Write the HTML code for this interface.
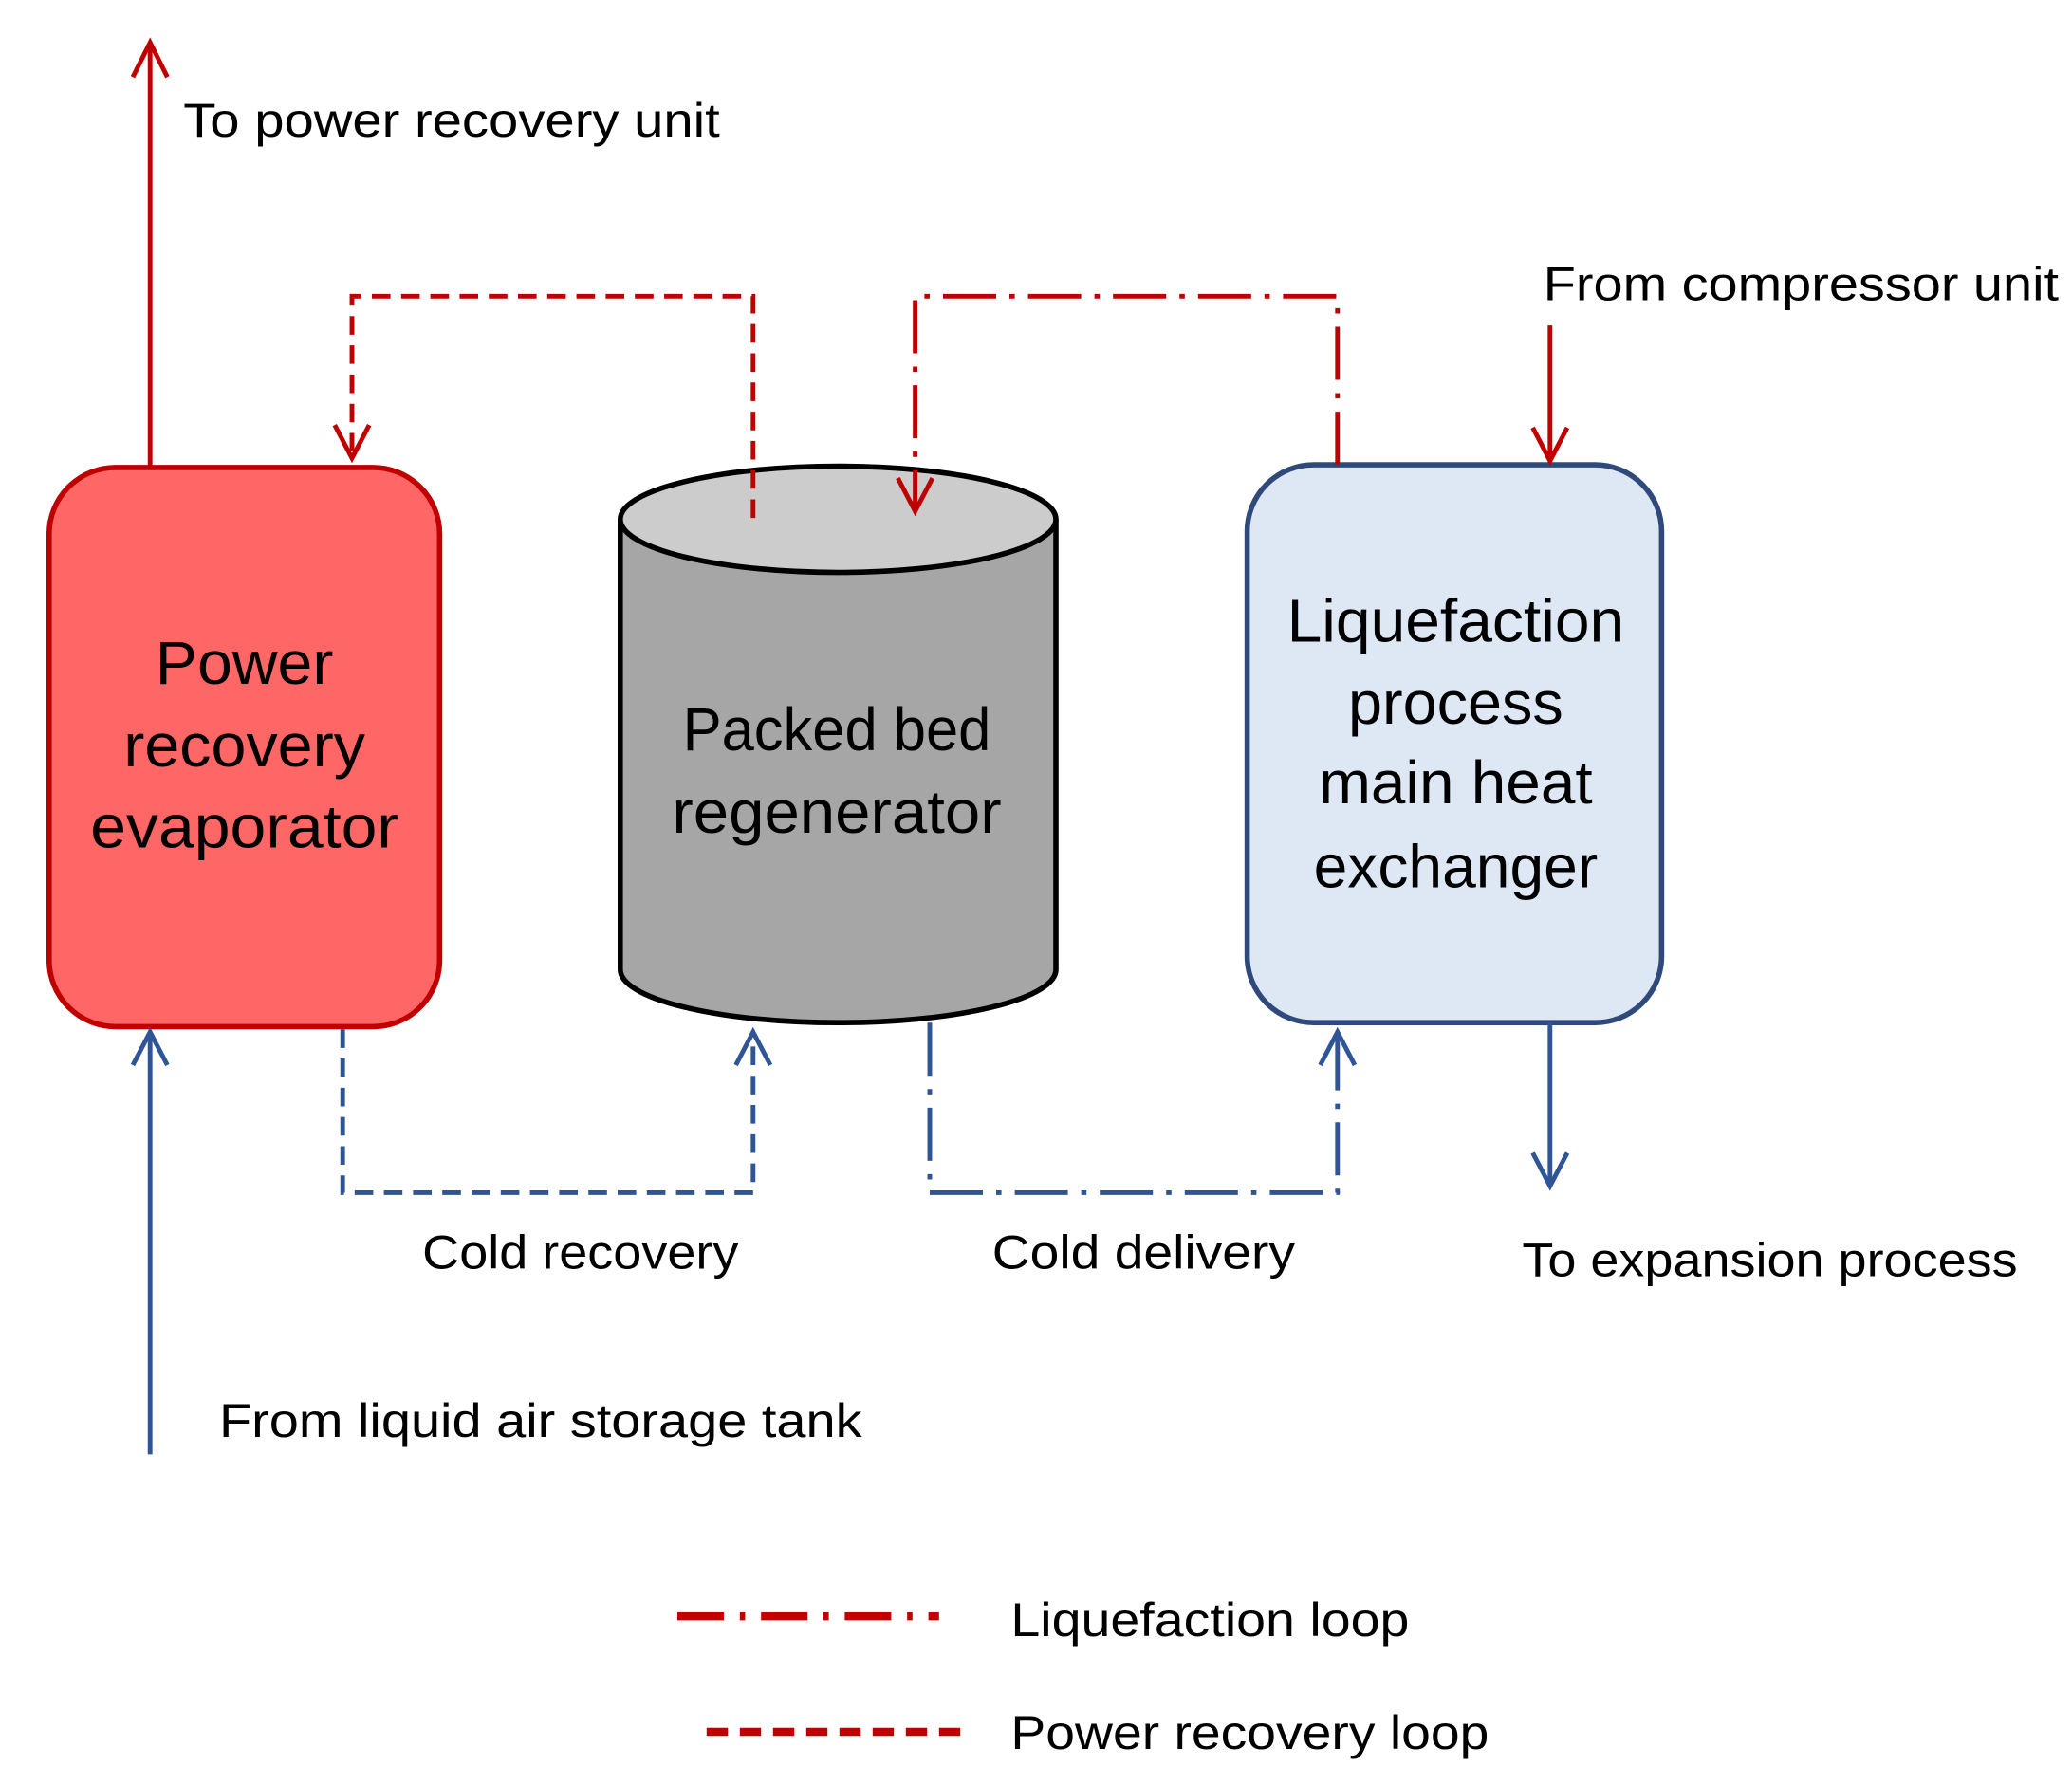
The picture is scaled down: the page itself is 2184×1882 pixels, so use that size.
<!DOCTYPE html>
<html><head><meta charset="utf-8"><style>
html,body{margin:0;padding:0;background:#fff;}
svg{display:block;}
text{font-family:"Liberation Sans",sans-serif;fill:#000;}
</style></head><body>
<svg width="2184" height="1882" viewBox="0 0 1560 1344" preserveAspectRatio="none" xmlns="http://www.w3.org/2000/svg">
<defs>
<marker id="ar" viewBox="0 0 20 20" refX="10" refY="2" markerWidth="20" markerHeight="20" markerUnits="userSpaceOnUse" orient="auto-start-reverse"></marker>
</defs>
<!-- Red box -->
<rect x="37" y="352" width="294" height="421" rx="50" fill="#ff6666" stroke="#c00000" stroke-width="4"/>
<!-- Cylinder -->
<path d="M467 391 L467 730 A164 40 0 0 0 795 730 L795 391" fill="#a6a6a6" stroke="#000" stroke-width="4"/>
<ellipse cx="631" cy="391" rx="164" ry="40" fill="#cccccc" stroke="#000" stroke-width="4"/>
<!-- Blue box -->
<rect x="939" y="350" width="312" height="420" rx="50" fill="#dde8f4" stroke="#2f4a7a" stroke-width="4"/>

<g fill="none" stroke-width="3.5">
<!-- red solid up -->
<path d="M113 352 V32" stroke="#c00000"/>
<path d="M100 58 L113 32 L126 58" stroke="#c00000"/>
<!-- red dashed -->
<path d="M567 390 V223 H265 V345" stroke="#c00000" stroke-dasharray="14 8"/>
<path d="M252 320 L265 345 L278 320" stroke="#c00000"/>
<!-- red dash-dot -->
<path d="M1007 350 V223 H689 V385" stroke="#c00000" stroke-dasharray="40 10 4 10"/>
<path d="M676 360 L689 385 L702 360" stroke="#c00000"/>
<!-- from compressor -->
<path d="M1167 245 V347" stroke="#c00000"/>
<path d="M1154 322 L1167 347 L1180 322" stroke="#c00000"/>
<!-- blue solid up -->
<path d="M113 1095 V777" stroke="#2f5597"/>
<path d="M100 802 L113 777 L126 802" stroke="#2f5597"/>
<!-- blue dashed -->
<path d="M258 775 V898 H567 V777" stroke="#2f5597" stroke-dasharray="14 8"/>
<path d="M554 802 L567 777 L580 802" stroke="#2f5597"/>
<!-- blue dash-dot -->
<path d="M700 770 V898 H1007 V777" stroke="#2f5597" stroke-dasharray="40 10 4 10"/>
<path d="M994 802 L1007 777 L1020 802" stroke="#2f5597"/>
<!-- to expansion -->
<path d="M1167 770 V893" stroke="#2f5597"/>
<path d="M1154 868 L1167 893 L1180 868" stroke="#2f5597"/>
<!-- legend -->
<path d="M510 1217 H707" stroke="#c00000" stroke-width="6" stroke-dasharray="35 12 4 12"/>
<path d="M532 1304 H727" stroke="#c00000" stroke-width="6" stroke-dasharray="16 9"/>
</g>

<g font-size="36">
<text x="138" y="103" textLength="404" lengthAdjust="spacingAndGlyphs">To power recovery unit</text>
<text x="1162" y="226" textLength="388" lengthAdjust="spacingAndGlyphs">From  compressor unit</text>
<text x="318" y="955" textLength="238" lengthAdjust="spacingAndGlyphs">Cold recovery</text>
<text x="747" y="955" textLength="228" lengthAdjust="spacingAndGlyphs">Cold delivery</text>
<text x="1146" y="961" textLength="373" lengthAdjust="spacingAndGlyphs">To expansion process</text>
<text x="165" y="1082" textLength="484" lengthAdjust="spacingAndGlyphs">From  liquid air storage tank</text>
<text x="761" y="1232" textLength="300" lengthAdjust="spacingAndGlyphs">Liquefaction loop</text>
<text x="761" y="1317" textLength="360" lengthAdjust="spacingAndGlyphs">Power recovery loop</text>
</g>
<g font-size="46" text-anchor="middle">
<text x="184" y="515" textLength="134" lengthAdjust="spacingAndGlyphs">Power</text>
<text x="184" y="577" textLength="182" lengthAdjust="spacingAndGlyphs">recovery</text>
<text x="184" y="638" textLength="232" lengthAdjust="spacingAndGlyphs">evaporator</text>
<text x="630" y="565" textLength="232" lengthAdjust="spacingAndGlyphs">Packed bed</text>
<text x="630" y="627" textLength="248" lengthAdjust="spacingAndGlyphs">regenerator</text>
<text x="1096" y="483" textLength="254" lengthAdjust="spacingAndGlyphs">Liquefaction</text>
<text x="1096" y="545" textLength="162" lengthAdjust="spacingAndGlyphs">process</text>
<text x="1096" y="605" textLength="206" lengthAdjust="spacingAndGlyphs">main heat</text>
<text x="1096" y="668" textLength="214" lengthAdjust="spacingAndGlyphs">exchanger</text>
</g>
</svg>
</body></html>
